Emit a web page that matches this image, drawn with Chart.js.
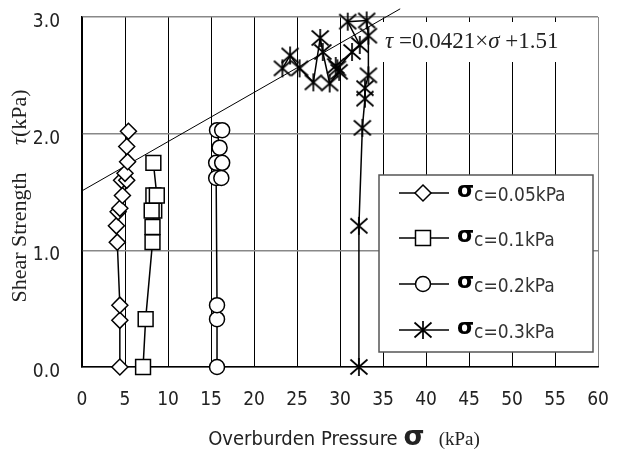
<!DOCTYPE html>
<html>
<head>
<meta charset="utf-8">
<script src="https://cdn.jsdelivr.net/npm/chart.js@4.4.0/dist/chart.umd.min.js"></script>
<style>
  html, body { margin: 0; padding: 0; background: #fff; }
  #wrap { width: 621px; height: 450px; position: relative; }
</style>
</head>
<body>
<div id="wrap"><canvas id="chart"></canvas></div>
<script>
// ── Data ─────────────────────────────────────────────────────
const seriesNames = ['c=0.05kPa', 'c=0.1kPa', 'c=0.2kPa', 'c=0.3kPa'];

const s005X = [4.4, 4.4, 4.4, 4.1, 4.0, 4.2, 4.4, 4.7, 4.6, 5.2, 5.0, 5.3, 5.2, 5.4];
const s005Y = [0, 0.40, 0.53, 1.07, 1.21, 1.33, 1.36, 1.47, 1.60, 1.60, 1.66, 1.76, 1.89, 2.02];

const s01X = [7.1, 7.4, 8.2, 8.2, 8.4, 8.1, 8.3, 8.7, 8.3];
const s01Y = [0, 0.41, 1.07, 1.20, 1.34, 1.34, 1.47, 1.47, 1.75];

const s02X = [15.7, 15.7, 15.7, 15.6, 16.2, 15.6, 16.3, 16.0, 15.7, 16.3];
const s02Y = [0, 0.41, 0.53, 1.62, 1.62, 1.75, 1.75, 1.88, 2.03, 2.03];

const s03X = [32.2, 32.2, 32.6, 32.9, 32.9, 33.3, 33.3, 33.1, 30.9, 32.3, 31.4, 29.7, 29.5, 29.9, 28.8, 28.0, 27.7, 26.9, 25.3, 24.2, 23.3];
const s03Y = [0, 1.21, 2.05, 2.30, 2.39, 2.50, 2.84, 2.97, 2.96, 2.76, 2.70, 2.56, 2.58, 2.53, 2.43, 2.70, 2.82, 2.44, 2.56, 2.67, 2.56];

const trendX = [0, 37];
const trendY = [1.51, 3.07];

const xMin = 0, xMax = 60, xStep = 5;
const yMin = 0, yMax = 3, yStep = 1;

// ── Fonts ─────────────────────────────────────────────────────
const NARROW = '"Liberation Sans Narrow", "DejaVu Sans Condensed", "Roboto Condensed", "Liberation Sans", sans-serif';
const SERIF  = '"Liberation Serif", "DejaVu Serif", serif';
const SANS   = '"DejaVu Sans", "Liberation Sans", sans-serif';

const pts = (xs, ys) => xs.map((x, i) => ({ x, y: ys[i] }));

// asterisk marker: an X plus a vertical bar
function makeStar() {
  const c = document.createElement('canvas');
  c.width = 20; c.height = 20;
  const g = c.getContext('2d');
  g.strokeStyle = '#000';
  g.lineWidth = 1.7;
  g.beginPath();
  g.moveTo(1.5, 2.5);  g.lineTo(18.5, 17.5);
  g.moveTo(18.5, 2.5); g.lineTo(1.5, 17.5);
  g.moveTo(10, 1);     g.lineTo(10, 19);
  g.stroke();
  return c;
}
const STAR = makeStar();

const markers = [
  { pointStyle: 'rectRot', pointRadius: 8 },
  { pointStyle: 'rect',    pointRadius: 10.5 },
  { pointStyle: 'circle',  pointRadius: 7.5 },
  { pointStyle: STAR,      pointRadius: 9 },
];

const seriesDs = (data, i) => ({
  label: seriesNames[i],
  data,
  borderColor: '#000',
  borderWidth: 1.5,
  backgroundColor: '#fff',
  pointBackgroundColor: '#fff',
  pointBorderColor: '#000',
  pointBorderWidth: 1.5,
  showLine: true,
  tension: 0,
  clip: false,
  ...markers[i],
});

// ── Marker drawing for the legend ────────────────────────────
function drawMarker(ctx, i, x, y) {
  ctx.save();
  ctx.strokeStyle = '#000';
  ctx.fillStyle = '#fff';
  ctx.lineWidth = 1.5;
  ctx.beginPath();
  if (i === 0) {
    ctx.moveTo(x, y - 8); ctx.lineTo(x + 8, y); ctx.lineTo(x, y + 8); ctx.lineTo(x - 8, y); ctx.closePath();
    ctx.fill(); ctx.stroke();
  } else if (i === 1) {
    ctx.rect(x - 7.5, y - 7.5, 15, 15);
    ctx.fill(); ctx.stroke();
  } else if (i === 2) {
    ctx.arc(x, y, 7.5, 0, Math.PI * 2);
    ctx.fill(); ctx.stroke();
  } else {
    ctx.drawImage(STAR, x - 10, y - 10, 20, 20);
  }
  ctx.restore();
}

// draw a run of [font, text] pieces starting at x
function drawRun(ctx, parts, x, y) {
  parts.forEach(([f, t]) => {
    ctx.font = f;
    ctx.fillText(t, x, y);
    x += ctx.measureText(t).width;
  });
}
function runWidth(ctx, parts) {
  let w = 0;
  parts.forEach(([f, t]) => { ctx.font = f; w += ctx.measureText(t).width; });
  return w;
}

// ── Extra decorations: equation, legend, axis titles ─────────
const decor = {
  id: 'decor',
  beforeDatasetsDraw(chart) {
    const { ctx, chartArea: a } = chart;
    ctx.save();
    ctx.fillStyle = '#fff';
    ctx.fillRect(378, 22, a.right - 379, 40);
    ctx.fillStyle = '#222';
    ctx.textBaseline = 'alphabetic';
    drawRun(ctx, [
      ['italic 23px ' + SERIF, 'τ'],
      ['23px ' + SERIF, ' =0.0421×'],
      ['italic 23px ' + SERIF, 'σ'],
      ['23px ' + SERIF, ' +1.51'],
    ], 385, 48);
    ctx.restore();
  },
  afterDatasetsDraw(chart) {
    const { ctx } = chart;
    ctx.save();
    const L = 379, T = 175, R = 593, B = 352;
    ctx.fillStyle = '#fff';
    ctx.fillRect(L, T, R - L, B - T);
    ctx.strokeStyle = '#555';
    ctx.lineWidth = 1.5;
    ctx.strokeRect(L, T, R - L, B - T);
    const rows = [193, 238, 284, 330];
    rows.forEach((ry, i) => {
      ctx.strokeStyle = '#000';
      ctx.lineWidth = 1.5;
      ctx.beginPath();
      ctx.moveTo(399, ry); ctx.lineTo(449, ry);
      ctx.stroke();
      drawMarker(ctx, i, 423, ry);
      ctx.textAlign = 'left';
      ctx.fillStyle = '#000';
      ctx.font = 'bold 22px ' + SANS;
      ctx.fillText('σ', 457, ry + 4);
      ctx.fillStyle = '#333';
      ctx.font = '19px ' + NARROW;
      ctx.fillText(seriesNames[i], 474, ry + 8);
    });
    ctx.restore();
  },
  afterDraw(chart) {
    const { ctx } = chart;
    ctx.save();
    ctx.fillStyle = '#222';
    ctx.textBaseline = 'alphabetic';
    const xParts = [
      ['20px ' + NARROW, 'Overburden Pressure '],
      ['bold 27px ' + SANS, 'σ'],
      ['19px ' + SERIF, '   (kPa)'],
    ];
    drawRun(ctx, xParts, 344 - runWidth(ctx, xParts) / 2, 445);
    ctx.translate(26, 196);
    ctx.rotate(-Math.PI / 2);
    const yParts = [
      ['22px ' + SERIF, 'Shear Strength     '],
      ['italic 22px ' + SERIF, 'τ'],
      ['22px ' + SERIF, '(kPa)'],
    ];
    drawRun(ctx, yParts, -runWidth(ctx, yParts) / 2, 0);
    ctx.restore();
  }
};

new Chart(document.getElementById('chart'), {
  type: 'scatter',
  data: {
    datasets: [
      seriesDs(pts(s005X, s005Y), 0),
      seriesDs(pts(s01X, s01Y), 1),
      seriesDs(pts(s02X, s02Y), 2),
      seriesDs(pts(s03X, s03Y), 3),
      {
        label: 'trend',
        data: pts(trendX, trendY),
        showLine: true,
        borderColor: '#000',
        borderWidth: 1,
        pointRadius: 0,
        clip: false,
      },
    ],
  },
  options: {
    responsive: true,
    maintainAspectRatio: false,
    animation: false,
    layout: { padding: { top: 17, right: 23, left: 0, bottom: 0 } },
    plugins: { legend: { display: false }, tooltip: { enabled: false } },
    scales: {
      x: {
        type: 'linear', min: xMin, max: xMax,
        afterFit: s => { s.height = 83; s.paddingLeft = 0; s.paddingRight = 0; },
        ticks: { stepSize: xStep, color: '#222', padding: 22, font: { family: NARROW, size: 19 } },
        grid: { color: c => c.tick && c.tick.value === xMax ? '#888' : '#000', lineWidth: 1, drawTicks: false },
        border: { color: '#000', width: 1.5 },
      },
      y: {
        type: 'linear', min: yMin, max: yMax,
        afterFit: s => { s.width = 82; s.paddingTop = 0; s.paddingBottom = 0; },
        ticks: { stepSize: yStep, color: '#222', padding: 22, labelOffset: 5,
                 font: { family: NARROW, size: 19 }, callback: v => v.toFixed(1) },
        grid: { color: '#888', lineWidth: 1.5, drawTicks: false },
        border: { color: '#000', width: 1.5 },
      },
    },
  },
  plugins: [decor],
});
</script>
</body>
</html>
